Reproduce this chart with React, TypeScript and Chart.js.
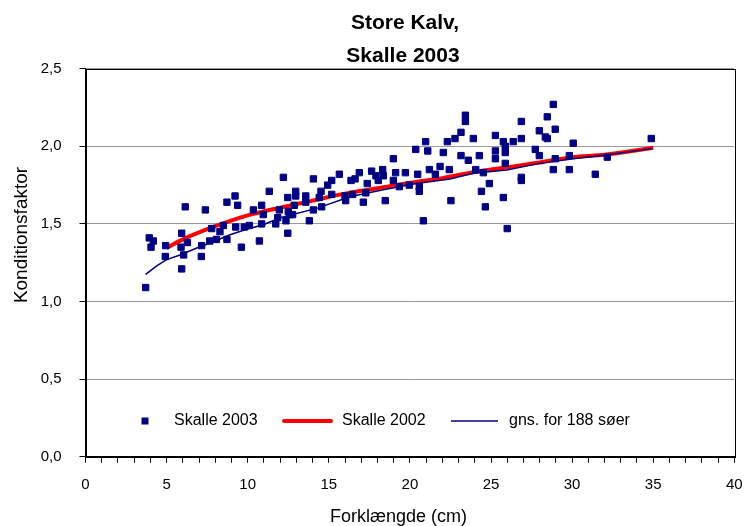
import React, { useEffect, useRef } from "react";
import { Chart, registerables } from "chart.js";

Chart.register(...registerables);

const TITLE_LINES = ["Store Kalv,", "Skalle 2003"];
const X_TITLE = "Forklængde (cm)";
const Y_TITLE = "Konditionsfaktor";

const SCATTER_LABEL = "Skalle 2003";
const RED_LABEL = "Skalle 2002";
const BLUE_LABEL = "gns. for 188 søer";

// Skalle 2003: fork length (cm) and condition factor
const scatterX = [
  3.71, 3.93, 4.18, 4.04, 4.94, 4.92, 5.93, 5.93, 6.15, 5.89, 6.05, 6.28, 7.16, 7.14, 7.39, 7.78,
  7.66, 8.07, 8.29, 8.5, 8.72, 8.72, 9.22, 9.38, 9.61, 9.26, 9.79, 10.1, 10.35, 10.86, 11.33, 10.96,
  10.72, 10.86, 11.73, 11.95, 11.85, 12.2, 12.36, 12.47, 12.47, 12.5, 12.61, 12.77, 12.87, 12.96, 12.96, 13.58,
  13.58, 13.8, 14.05, 14.05, 14.41, 14.52, 14.56, 14.93, 15.18, 15.18, 15.65, 16.0, 16.04, 16.37, 16.47, 16.62,
  16.88, 17.13, 17.28, 17.37, 17.64, 17.91, 18.05, 18.32, 18.36, 18.48, 18.98, 18.98, 19.12, 19.35, 19.72, 19.96,
  20.36, 20.48, 20.58, 20.58, 20.83, 20.97, 21.1, 21.2, 21.57, 21.86, 22.06, 22.31, 22.43, 22.53, 22.78, 23.15,
  23.15, 23.6, 23.42, 23.42, 23.91, 24.06, 24.28, 24.41, 24.53, 24.65, 24.9, 25.27, 25.27, 25.27, 25.76, 25.76,
  25.88, 25.88, 25.88, 26.0, 26.37, 26.87, 26.87, 26.87, 26.87, 27.73, 27.98, 27.98, 28.35, 28.47, 28.47, 28.84,
  28.96, 28.84, 28.96, 29.83, 29.83, 30.07, 31.43, 32.17, 34.88,
];
const scatterY = [
  1.09, 1.41, 1.39, 1.35, 1.36, 1.29, 1.21, 1.44, 1.61, 1.35, 1.3, 1.38, 1.36, 1.29, 1.59, 1.47,
  1.39, 1.4, 1.45, 1.49, 1.4, 1.64, 1.68, 1.62, 1.35, 1.48, 1.48, 1.49, 1.59, 1.62, 1.71, 1.56,
  1.39, 1.5, 1.5, 1.59, 1.54, 1.8, 1.52, 1.44, 1.67, 1.58, 1.56, 1.56, 1.62, 1.71, 1.68, 1.68,
  1.64, 1.52, 1.79, 1.59, 1.67, 1.71, 1.61, 1.75, 1.78, 1.69, 1.82, 1.68, 1.65, 1.78, 1.69, 1.79,
  1.83, 1.64, 1.7, 1.76, 1.84, 1.81, 1.78, 1.85, 1.81, 1.65, 1.92, 1.78, 1.83, 1.74, 1.83, 1.75,
  1.98, 1.82, 1.74, 1.71, 1.52, 2.03, 1.97, 1.85, 1.82, 1.87, 1.96, 2.03, 1.85, 1.65, 2.05, 2.09,
  1.94, 1.91, 2.2, 2.16, 2.05, 1.85, 1.94, 1.71, 1.83, 1.61, 1.76, 2.07, 1.97, 1.92, 2.03, 1.67,
  2.0, 1.96, 1.89, 1.47, 2.03, 2.16, 2.05, 1.8, 1.78, 1.98, 2.1, 1.94, 2.06, 2.05, 2.19, 2.27,
  2.11, 1.85, 1.92, 1.94, 1.85, 2.02, 1.82, 1.93, 2.05,
];

// Skalle 2002 curve
const redX = [5, 6, 8, 10, 12, 14, 16, 18, 20, 22, 24, 26, 28, 30, 32, 35];
const redY = [1.345, 1.4, 1.485, 1.555, 1.605, 1.65, 1.695, 1.73, 1.765, 1.795, 1.835, 1.865, 1.895, 1.93, 1.945, 1.99];

// gns. for 188 søer curve
const blueX = [3.71, 4.39, 5.0, 5.83, 6.86, 7.88, 8.91, 9.94, 10.96, 12.0, 14.25, 16.3, 18.36, 20.4, 22.47, 23.9, 25.97, 28.0, 30.07, 32.1, 34.9];
const blueY = [1.175, 1.23, 1.27, 1.3, 1.345, 1.385, 1.43, 1.465, 1.495, 1.54, 1.6, 1.675, 1.72, 1.76, 1.79, 1.826, 1.847, 1.89, 1.92, 1.944, 1.985];

const X_MIN = 0, X_MAX = 40, X_STEP = 1, X_LABEL_EVERY = 5;
const Y_MIN = 0, Y_MAX = 2.5, Y_STEP = 0.5;

const FONT = "'Liberation Sans', Arial, Helvetica, sans-serif";
const NAVY = "#000080";
const RED = "#ff0000";

const W = 747, H = 526;
const AREA_LEFT = 85.5, AREA_TOP = 68.7, AREA_RIGHT = 734.3, AREA_BOTTOM = 456.7;

const decorPlugin = {
  id: "decor",
  afterDraw(chart: any) {
    const ctx = chart.ctx as CanvasRenderingContext2D;
    const a = chart.chartArea;
    ctx.save();
    // plot border
    ctx.strokeStyle = "#000";
    ctx.lineWidth = 1;
    ctx.strokeRect(Math.round(a.left) + 0.5, Math.round(a.top) + 0.5, Math.round(a.right - a.left), Math.round(a.bottom - a.top));

    // title
    ctx.fillStyle = "#000";
    ctx.textAlign = "center";
    ctx.textBaseline = "alphabetic";
    ctx.font = `bold 21px ${FONT}`;
    ctx.fillText(TITLE_LINES[0], 405, 28.5);
    ctx.fillText(TITLE_LINES[1], 403, 61.5);

    // axis titles
    ctx.font = `18px ${FONT}`;
    ctx.fillText(X_TITLE, 398.5, 522);
    ctx.save();
    ctx.translate(27, 235);
    ctx.rotate(-Math.PI / 2);
    ctx.font = `19px ${FONT}`;
    ctx.fillText(Y_TITLE, 0, 0);
    ctx.restore();

    // legend
    const ds = chart.data.datasets;
    const ly = 421;
    ctx.font = `16px ${FONT}`;
    ctx.textAlign = "left";
    ctx.textBaseline = "middle";
    ctx.fillStyle = ds[0].backgroundColor;
    ctx.fillRect(145 - 3.5, ly - 3.5, 7, 7);
    ctx.fillStyle = "#000";
    ctx.fillText(ds[0].label, 174, ly);
    ctx.strokeStyle = ds[1].borderColor;
    ctx.lineWidth = ds[1].borderWidth;
    ctx.lineCap = "round";
    ctx.beginPath();
    ctx.moveTo(284, ly);
    ctx.lineTo(331, ly);
    ctx.stroke();
    ctx.fillText(ds[1].label, 342, ly);
    ctx.strokeStyle = ds[2].borderColor;
    ctx.lineWidth = ds[2].borderWidth;
    ctx.lineCap = "butt";
    ctx.beginPath();
    ctx.moveTo(451, ly);
    ctx.lineTo(498, ly);
    ctx.stroke();
    ctx.fillText(ds[2].label, 509, ly);
    ctx.restore();
  },
};

export default function App() {
  const ref = useRef<HTMLCanvasElement | null>(null);

  useEffect(() => {
    if (!ref.current) return;
    const toPts = (xs: number[], ys: number[]) => xs.map((x, i) => ({ x, y: ys[i] }));
    const chart = new Chart(ref.current, {
      type: "scatter",
      data: {
        datasets: [
          {
            label: SCATTER_LABEL,
            data: toPts(scatterX, scatterY),
            backgroundColor: NAVY,
            borderColor: NAVY,
            borderWidth: 1,
            pointStyle: "rect",
            pointRadius: 4.5,
            showLine: false,
            order: 0,
          },
          {
            label: RED_LABEL,
            data: toPts(redX, redY),
            borderColor: RED,
            backgroundColor: RED,
            borderWidth: 4,
            pointRadius: 0,
            showLine: true,
            tension: 0.4,
            cubicInterpolationMode: "monotone",
            order: 2,
          },
          {
            label: BLUE_LABEL,
            data: toPts(blueX, blueY),
            borderColor: NAVY,
            backgroundColor: NAVY,
            borderWidth: 1.5,
            pointRadius: 0,
            showLine: true,
            tension: 0,
            order: 1,
          },
        ] as any,
      },
      options: {
        responsive: false,
        animation: false,
        devicePixelRatio: 1,
        layout: { padding: { left: 0, top: AREA_TOP, right: W - AREA_RIGHT, bottom: 0 } },
        plugins: { legend: { display: false }, tooltip: { enabled: false }, title: { display: false } },
        scales: {
          x: {
            type: "linear",
            position: "bottom",
            min: X_MIN,
            max: X_MAX,
            afterFit: (s: any) => { s.height = H - AREA_BOTTOM; s.paddingLeft = 0; s.paddingRight = 0; },
            ticks: {
              stepSize: X_STEP,
              autoSkip: false,
              maxRotation: 0,
              minRotation: 0,
              padding: 13,
              color: "#000",
              font: { family: FONT, size: 15 },
              callback: (v: any) => (Number(v) % X_LABEL_EVERY === 0 ? String(v) : ""),
            },
            grid: { drawOnChartArea: false, drawTicks: true, tickLength: 6, tickColor: "#000", color: "#000" },
            border: { display: true, color: "#000", width: 1 },
          },
          y: {
            type: "linear",
            min: Y_MIN,
            max: Y_MAX,
            afterFit: (s: any) => { s.width = AREA_LEFT; s.paddingTop = 0; s.paddingBottom = 0; },
            ticks: {
              stepSize: Y_STEP,
              padding: 18,
              color: "#000",
              font: { family: FONT, size: 15 },
              callback: (v: any) => Number(v).toFixed(1).replace(".", ","),
            },
            grid: { drawOnChartArea: true, drawTicks: true, tickLength: 6, tickColor: "#000", color: "#999999", lineWidth: 1 },
            border: { display: true, color: "#000", width: 1 },
          },
        },
      } as any,
      plugins: [decorPlugin],
    });
    return () => chart.destroy();
  }, []);

  return (
    <div style={{ position: "fixed", left: 0, top: 0, width: W, height: H, background: "#fff" }}>
      <canvas ref={ref} width={W} height={H} style={{ width: W, height: H, display: "block" }} />
    </div>
  );
}
